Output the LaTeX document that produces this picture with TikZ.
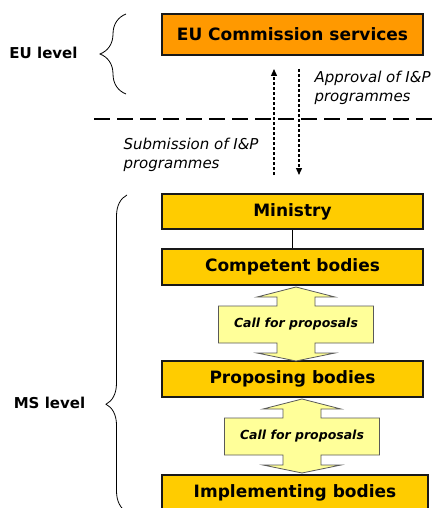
\documentclass[tikz,border=0pt]{standalone}
\usepackage{fontspec}
\setmainfont{DejaVu Sans}
\usetikzlibrary{decorations.pathreplacing,arrows.meta}
\definecolor{euorange}{RGB}{255,153,0}
\definecolor{msyellow}{RGB}{255,204,0}
\definecolor{calllight}{RGB}{255,255,153}
\tikzset{
  levelbox/.style={draw=black!90, line width=1.6pt, fill=msyellow, inner sep=0pt,
    minimum width=261pt, minimum height=36pt, font=\fontsize{17}{20}\selectfont\bfseries},
  levelname/.style={font=\fontsize{15}{18}\selectfont\bfseries},
  flownote/.style={align=left, anchor=west, font=\fontsize{15}{19}\selectfont\itshape},
  flowarrow/.style={line width=1.3pt, dash pattern=on 3pt off 2pt, -{Triangle[length=7pt,width=6pt]}},
  callshape/.style={draw=black!65, line width=0.8pt, fill=calllight},
  calltext/.style={font=\fontsize{12.5}{15}\selectfont\bfseries\itshape},
  levelbrace/.style={decorate, line width=0.8pt}
}
% double headed call arrow: name, x and y of its top tip
\newcommand{\callarrow}[3]{%
  \draw[callshape, shift={(#2,#3)}] (0,0) -- (39,10) -- (19,10) -- (19,19) -- (77.5,19)
    -- (77.5,56) -- (19,56) -- (19,66) -- (39,66) -- (0,74) -- (-39,66) -- (-19,66)
    -- (-19,56) -- (-77.5,56) -- (-77.5,19) -- (-19,19) -- (-19,10) -- (-39,10) -- cycle;
  \node[calltext] (#1) at (#2,#3+37.5) {Call for proposals};
}
\begin{document}
\begin{tikzpicture}[x=1pt, y=-1pt]
\clip (0,0) rectangle (439,508);
% levels
\node[levelname] (eulevel) at (43.5,53) {EU level};
\node[levelname] (mslevel) at (49.5,403) {MS level};
\draw[levelbrace, decoration={brace, amplitude=26pt}] (126,94) -- (126,14);
\draw[levelbrace, decoration={brace, amplitude=21pt, aspect=0.34}] (127,512) -- (127,195);
% boxes
\node[levelbox, fill=euorange, minimum height=41pt] (commission) at (292.5,34.5) {EU Commission services};
\node[levelbox, minimum height=35pt] (ministry) at (292.5,211.5) {Ministry};
\node[levelbox] (competent) at (292.5,267) {Competent bodies};
\node[levelbox] (proposing) at (292.5,379) {Proposing bodies};
\node[levelbox, minimum width=266pt] (implementing) at (295,493) {Implementing bodies};
\draw[line width=0.8pt] (ministry) -- (competent);
% border between levels
\coordinate (borderL) at (94,119);
\coordinate (borderR) at (439,119);
\draw[line width=2.7pt, dash pattern=on 16pt off 7pt] (borderL) -- (borderR);
% submission and approval
\coordinate (subfrom) at (274,175);
\coordinate (subto) at (274,69);
\coordinate (appfrom) at (299,69);
\coordinate (appto) at (299,175);
\draw[flowarrow] (subfrom) -- (subto);
\draw[flowarrow] (appfrom) -- (appto);
\node[flownote] (approval) at (311,88) {Approval of I\&P\\programmes};
\node[flownote] (submission) at (120,155) {Submission of I\&P\\programmes};
% calls
\callarrow{callA}{296}{287}
\callarrow{callB}{302}{399}
\end{tikzpicture}
\end{document}
